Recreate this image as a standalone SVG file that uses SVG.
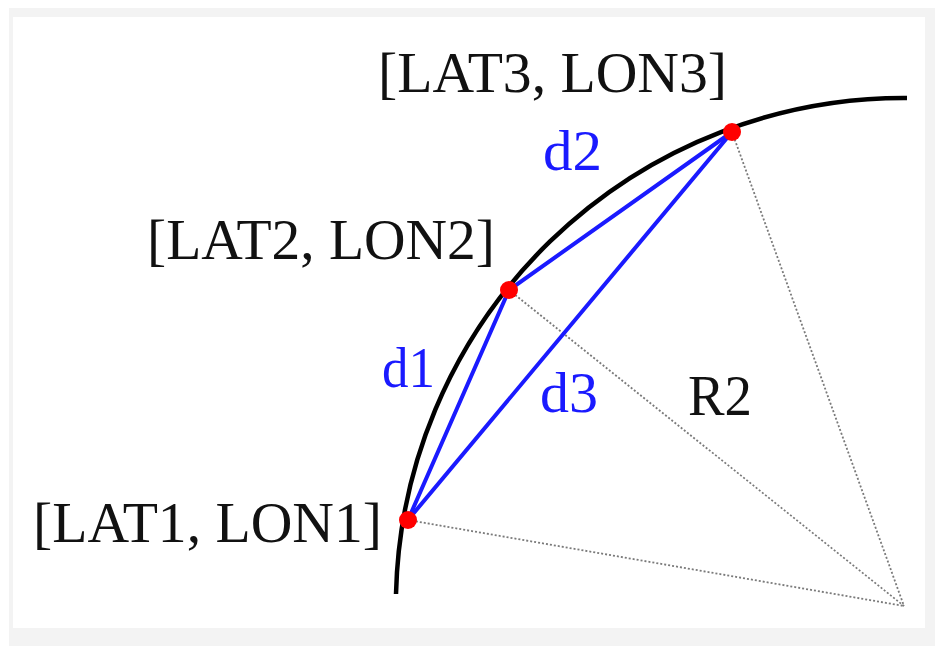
<svg xmlns="http://www.w3.org/2000/svg" width="935" height="646" viewBox="0 0 935 646">
  <style>
    .lbl { font-family: "Liberation Serif", "Times New Roman", serif; font-size: 58px; fill: #111111; }
    .blue { fill: #1a1aff; }
    .chord { stroke: #1a1aff; stroke-width: 4; fill: none; stroke-linecap: round; }
    .radius { stroke: #7a7a7a; stroke-width: 1.8; stroke-dasharray: 2 2; fill: none; }
    .pt { fill: #ff0000; }
  </style>
  <rect x="0" y="0" width="935" height="646" fill="#ffffff"/>
  <rect x="9" y="8" width="926" height="638" fill="#f3f3f3"/>
  <rect x="13" y="17" width="912" height="611" fill="#ffffff"/>

  <g id="arc">
    <path d="M 396 594 A 508 508 0 0 1 907 98" fill="none" stroke="#000000" stroke-width="4.5"/>
  </g>

  <g id="connectors">
    <line class="radius" x1="408" y1="520" x2="904" y2="606"/>
    <line class="radius" x1="509" y1="290" x2="904" y2="606"/>
    <line class="radius" x1="732" y1="132" x2="904" y2="606"/>
    <line class="chord" x1="408" y1="520" x2="509" y2="290"/>
    <line class="chord" x1="509" y1="290" x2="732" y2="132"/>
    <line class="chord" x1="408" y1="520" x2="732" y2="132"/>
  </g>

  <g id="p1">
    <circle class="pt" cx="408" cy="520" r="9"/>
    <text class="lbl" x="33" y="542" textLength="349" lengthAdjust="spacingAndGlyphs">[LAT1, LON1]</text>
  </g>
  <g id="p2">
    <circle class="pt" cx="509" cy="290" r="9"/>
    <text class="lbl" x="147" y="259" textLength="348" lengthAdjust="spacingAndGlyphs">[LAT2, LON2]</text>
  </g>
  <g id="p3">
    <circle class="pt" cx="732" cy="132" r="9"/>
    <text class="lbl" x="378" y="92" textLength="349" lengthAdjust="spacingAndGlyphs">[LAT3, LON3]</text>
  </g>

  <g id="labels">
    <text class="lbl blue" x="382" y="387" textLength="53" lengthAdjust="spacingAndGlyphs">d1</text>
    <text class="lbl blue" x="543" y="170" textLength="59" lengthAdjust="spacingAndGlyphs">d2</text>
    <text class="lbl blue" x="540" y="412" textLength="58" lengthAdjust="spacingAndGlyphs">d3</text>
    <text class="lbl" x="688" y="415" textLength="64" lengthAdjust="spacingAndGlyphs">R2</text>
  </g>
</svg>
